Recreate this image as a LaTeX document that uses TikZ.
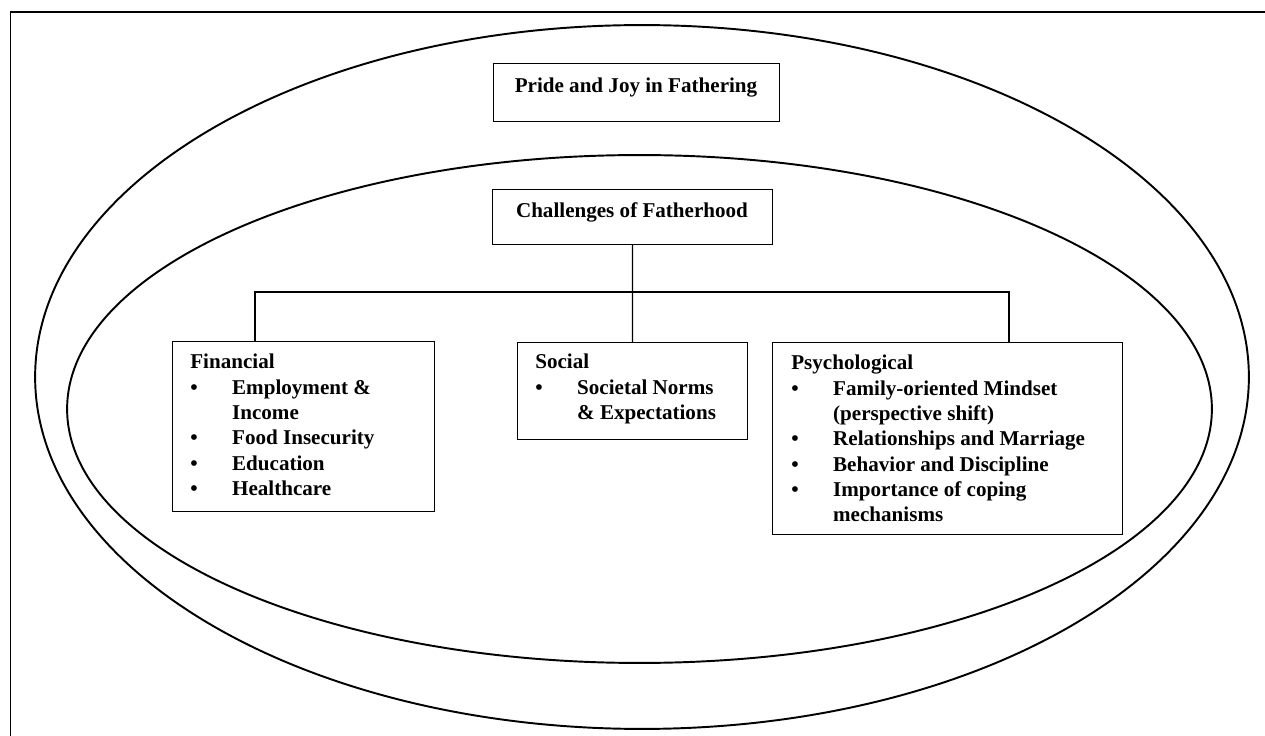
\documentclass[tikz,border=0pt]{standalone}
\usepackage{fontspec}
\setmainfont{Liberation Serif}
\tikzset{
  frame/.style={line width=0.6pt},
  ring/.style={line width=1.1pt},
  box/.style={draw, line width=0.6pt, anchor=north west, inner sep=0pt},
  txt/.style={anchor=base west, inner sep=0pt, font=\fontsize{12}{14.4}\selectfont\bfseries},
  ttl/.style={txt, anchor=base},
  link/.style={line width=0.6pt}
}
\newcommand{\bul}{\textbullet}
\begin{document}
\begin{tikzpicture}[x=0.02cm, y=-0.02cm]
\useasboundingbox (0,0) rectangle (1265,736);
\draw[frame] (10.5,736) -- (10.5,12) -- (1265,12);
\draw[ring] (642,377) ellipse [x radius=12.14cm, y radius=7.04cm];
\draw[ring] (639.5,409) ellipse [x radius=11.45cm, y radius=5.08cm];

\node[box, minimum width=5.72cm, minimum height=1.16cm] (pride) at (493,63) {};
\node[ttl] (pridetext) at (636,93) {Pride and Joy in Fathering};

\node[box, minimum width=5.6cm, minimum height=1.1cm] (chal) at (492,189) {};
\node[ttl] (chaltext) at (632,218) {Challenges of Fatherhood};

\node[box, minimum width=5.24cm, minimum height=3.4cm] (fin) at (172,341) {};
\node[box, minimum width=4.6cm, minimum height=1.94cm] (soc) at (517,342) {};
\node[box, minimum width=7.0cm, minimum height=3.84cm] (psy) at (772,342) {};

\node[txt] (fintext) at (190,369) {\begin{tabular}[t]{@{}p{23.8pt}@{}l@{}}
\multicolumn{2}{@{}l@{}}{Financial}\\
\bul & Employment \&\\
 & Income\\
\bul & Food Insecurity\\
\bul & Education\\
\bul & Healthcare
\end{tabular}};
\node[txt] (soctext) at (535,369) {\begin{tabular}[t]{@{}p{23.8pt}@{}l@{}}
\multicolumn{2}{@{}l@{}}{Social}\\
\bul & Societal Norms\\
 & \& Expectations
\end{tabular}};
\node[txt] (psytext) at (791,370) {\begin{tabular}[t]{@{}p{23.8pt}@{}l@{}}
\multicolumn{2}{@{}l@{}}{Psychological}\\
\bul & Family-oriented Mindset\\
 & (perspective shift)\\
\bul & Relationships and Marriage\\
\bul & Behavior and Discipline\\
\bul & Importance of coping\\
 & mechanisms
\end{tabular}};

\coordinate (bar) at (632,292);
\coordinate (barL) at (255,292);
\coordinate (barR) at (1009,292);
\draw[link] (chal.south) -- (soc.north);
\draw[link] (barL |- fin.north) -- (barL) -- (barR) -- (barR |- psy.north);
\end{tikzpicture}
\end{document}
